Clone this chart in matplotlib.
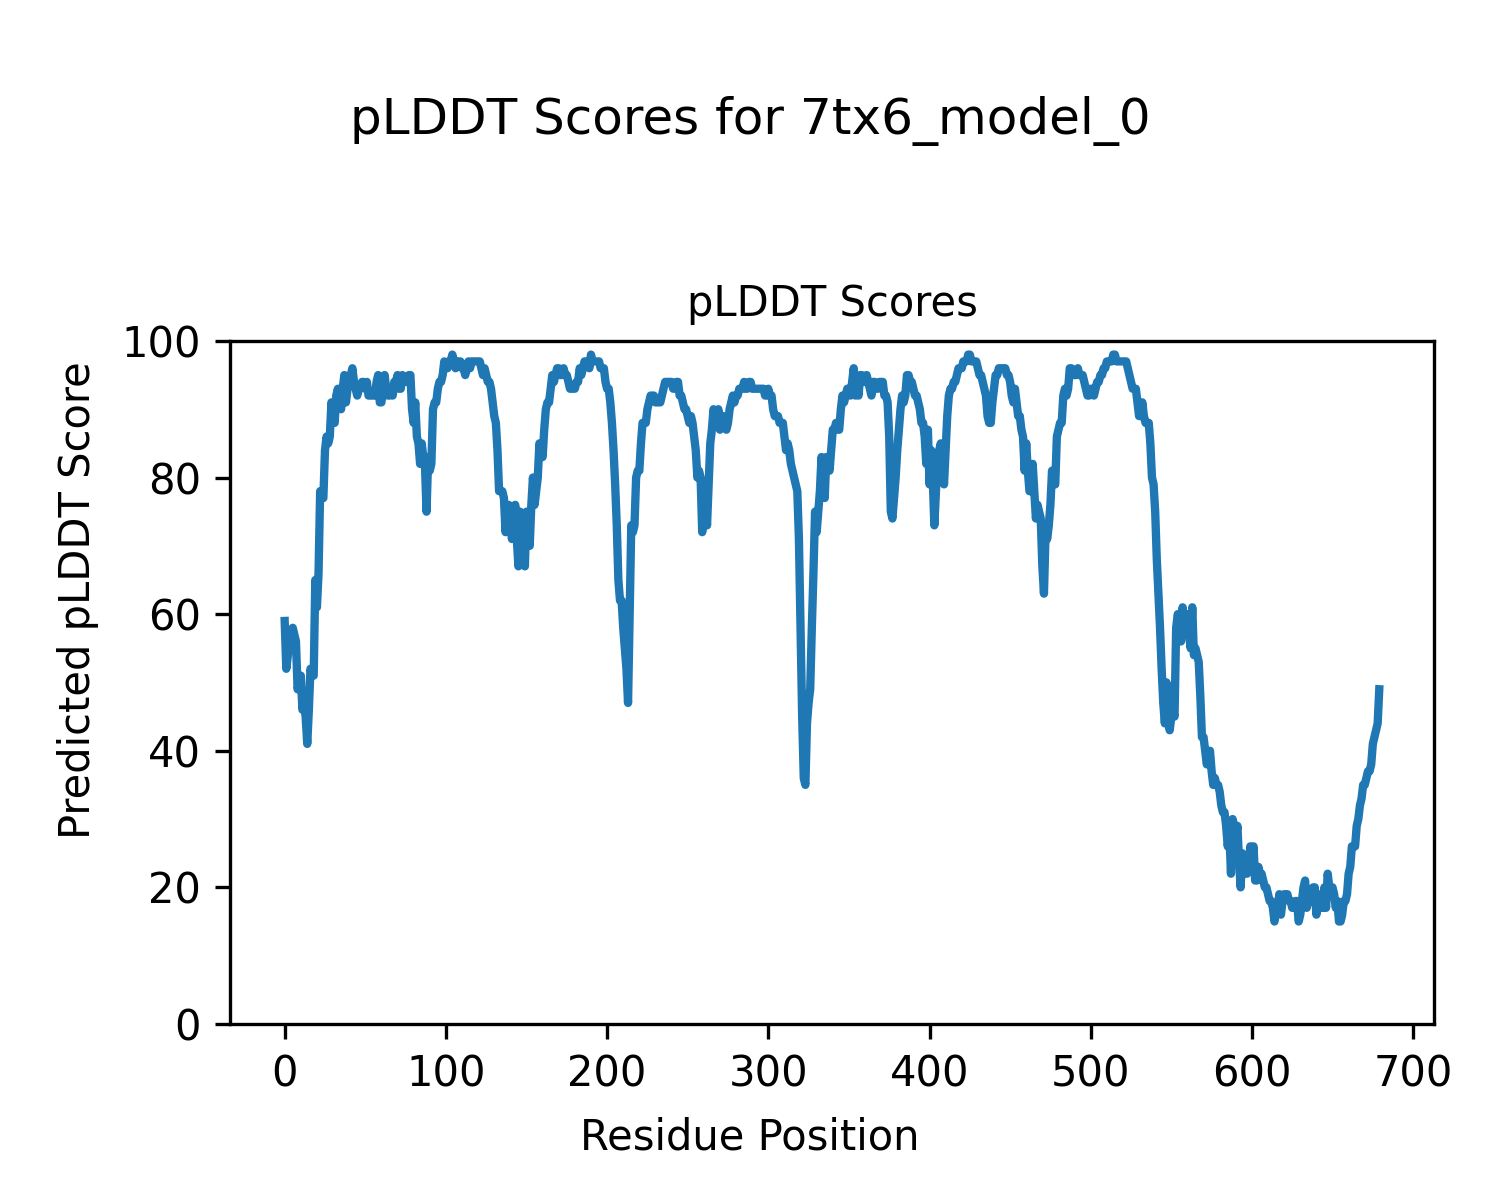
import numpy as np
import matplotlib
matplotlib.use("Agg")
import matplotlib.pyplot as plt

model_name = "7tx6_model_0"

# per-residue pLDDT (10 residues per row)
plddt = [
    59, 52, 54, 56, 57, 58, 57, 56, 49, 50,
    51, 46, 47, 45, 41, 46, 52, 51, 51, 65,
    61, 66, 78, 77, 77, 84, 86, 85, 86, 91,
    89, 88, 92, 93, 91, 90, 93, 95, 91, 93,
    94, 95, 96, 94, 93, 92, 93, 93, 94, 94,
    93, 94, 92, 92, 92, 92, 92, 94, 95, 91,
    91, 93, 95, 93, 92, 92, 93, 92, 94, 94,
    95, 93, 93, 95, 94, 94, 94, 95, 95, 90,
    88, 91, 86, 85, 82, 85, 83, 82, 75, 83,
    81, 82, 90, 91, 91, 93, 94, 94, 95, 97,
    96, 96, 97, 97, 98, 97, 96, 97, 97, 97,
    96, 96, 95, 96, 97, 96, 97, 97, 97, 97,
    97, 97, 96, 95, 96, 95, 94, 94, 93, 91,
    89, 88, 84, 78, 78, 78, 77, 72, 75, 76,
    73, 71, 74, 76, 71, 67, 75, 72, 69, 67,
    75, 73, 70, 76, 80, 76, 78, 80, 85, 84,
    83, 87, 90, 91, 91, 93, 95, 94, 95, 96,
    96, 95, 95, 96, 95, 95, 94, 93, 93, 93,
    93, 94, 94, 96, 95, 96, 97, 97, 97, 96,
    98, 97, 97, 97, 97, 97, 96, 96, 96, 94,
    93, 93, 91, 88, 84, 79, 73, 65, 62, 62,
    58, 55, 52, 47, 60, 73, 72, 73, 80, 81,
    81, 85, 88, 88, 88, 90, 91, 92, 92, 92,
    91, 91, 91, 91, 92, 93, 94, 94, 94, 94,
    94, 93, 93, 94, 94, 92, 92, 91, 90, 90,
    89, 88, 89, 88, 86, 84, 80, 81, 80, 72,
    78, 76, 73, 79, 85, 87, 90, 89, 88, 90,
    87, 88, 89, 88, 87, 88, 90, 91, 92, 91,
    92, 92, 93, 93, 93, 94, 93, 93, 94, 94,
    93, 93, 93, 93, 93, 93, 93, 93, 92, 92,
    93, 92, 92, 90, 89, 89, 89, 88, 88, 88,
    86, 84, 85, 84, 82, 81, 80, 79, 78, 71,
    58, 45, 36, 35, 44, 47, 49, 58, 66, 75,
    72, 75, 78, 83, 79, 77, 83, 82, 81, 84,
    87, 87, 88, 87, 87, 90, 92, 91, 92, 93,
    93, 92, 94, 96, 92, 93, 92, 95, 95, 94,
    94, 95, 94, 93, 92, 94, 94, 93, 93, 94,
    94, 94, 92, 92, 91, 86, 75, 74, 77, 80,
    84, 87, 90, 92, 91, 92, 95, 95, 94, 94,
    93, 92, 92, 91, 90, 88, 88, 86, 82, 87,
    79, 84, 80, 73, 78, 83, 84, 85, 82, 79,
    84, 89, 92, 93, 93, 94, 94, 95, 96, 96,
    96, 97, 97, 97, 98, 98, 97, 97, 97, 97,
    96, 95, 95, 94, 93, 92, 89, 88, 88, 91,
    93, 95, 95, 96, 96, 96, 96, 96, 95, 95,
    94, 92, 91, 93, 91, 89, 89, 87, 86, 81,
    85, 81, 78, 78, 82, 78, 74, 76, 75, 74,
    67, 63, 72, 71, 73, 76, 81, 79, 79, 86,
    87, 88, 88, 92, 93, 92, 93, 96, 96, 95,
    95, 95, 96, 95, 95, 95, 94, 93, 92, 92,
    93, 93, 92, 93, 94, 94, 95, 95, 96, 96,
    97, 97, 97, 97, 98, 98, 97, 97, 97, 97,
    97, 97, 97, 96, 95, 94, 93, 93, 93, 91,
    89, 89, 91, 89, 88, 88, 88, 85, 80, 79,
    75, 68, 63, 58, 52, 47, 44, 50, 45, 43,
    45, 46, 45, 58, 60, 59, 56, 61, 58, 59,
    60, 57, 55, 61, 54, 55, 54, 53, 48, 42,
    42, 40, 38, 39, 40, 37, 35, 36, 35, 35,
    34, 32, 31, 31, 29, 26, 28, 22, 30, 29,
    27, 29, 24, 20, 25, 22, 23, 22, 23, 26,
    24, 26, 21, 21, 23, 22, 22, 21, 20, 20,
    19, 18, 18, 17, 15, 17, 17, 19, 16, 18,
    19, 19, 19, 18, 18, 17, 17, 18, 18, 15,
    16, 18, 20, 21, 17, 18, 18, 18, 20, 20,
    16, 19, 18, 17, 17, 20, 17, 22, 20, 20,
    20, 19, 17, 18, 15, 15, 16, 18, 18, 19,
    22, 23, 26, 26, 26, 29, 30, 32, 33, 35,
    35, 36, 37, 37, 38, 41, 42, 43, 44, 49,
]

residues = np.arange(len(plddt))

fig = plt.figure(figsize=(5, 4), dpi=300)
fig.suptitle(f"pLDDT Scores for {model_name}", fontsize=12, y=0.92)
fig.supxlabel("Residue Position", fontsize=10, y=0.052, va="center")
fig.supylabel("Predicted pLDDT Score", fontsize=10, x=0.052, ha="center")

ax = fig.add_axes([0.1533, 0.1467, 0.8027, 0.5692])
ax.plot(residues, plddt, linewidth=2)
ax.set_ylim(0, 100)
ax.set_title("pLDDT Scores", fontsize=10)

fig.savefig("out.png", dpi=300)
